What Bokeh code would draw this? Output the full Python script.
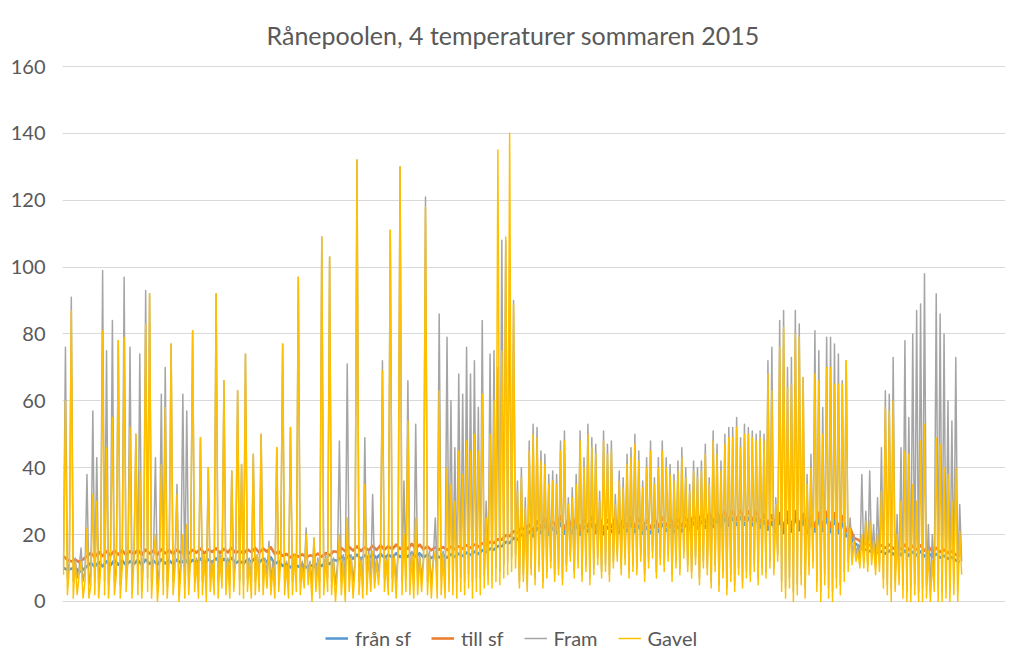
from bokeh.plotting import figure
from bokeh.models import Range1d, Legend, LegendItem, FixedTicker
from bokeh.embed import file_html
from bokeh.resources import INLINE

title_text = "Rånepoolen, 4 temperaturer sommaren 2015"
series_names = ["från sf", "till sf", "Fram", "Gavel"]
y_ticks = [0, 20, 40, 60, 80, 100, 120, 140, 160]

# ---- Gavel (yellow), first part, one value per sample (samples 0..231)
gavel_early = [
    8, 60, 2, 10, 87, 1, 12, 2, 8, 12,
    1, 6, 22, 1, 5, 32, 2, 30, 1, 10,
    81, 2, 46, 1, 12, 55, 2, 8, 78, 1,
    10, 79, 3, 13, 52, 1, 12, 50, 2, 39,
    1, 14, 83, 3, 92, 1, 13, 20, 0, 8,
    41, 2, 58, 1, 12, 77, 2, 10, 32, 0,
    9, 20, 1, 23, 2, 14, 81, 3, 12, 1,
    49, 2, 14, 0, 40, 3, 11, 2, 92, 1,
    13, 4, 66, 2, 12, 1, 39, 3, 13, 63,
    2, 41, 1, 74, 3, 12, 1, 44, 2, 14,
    3, 50, 2, 12, 4, 16, 2, 10, 1, 46,
    3, 12, 77, 2, 11, 1, 52, 2, 14, 3,
    97, 2, 10, 4, 20, 5, 11, 0, 19, 3,
    12, 1, 109, 2, 13, 3, 103, 2, 12, 0,
    9, 20, 2, 12, 0, 25, 3, 13, 1, 10,
    132, 2, 12, 1, 35, 2, 14, 3, 15, 4,
    12, 5, 14, 69, 3, 12, 2, 111, 3, 13,
    1, 14, 130, 2, 20, 3, 54, 2, 14, 1,
    25, 2, 13, 3, 12, 118, 2, 14, 1, 12,
    15, 1, 63, 2, 14, 1, 40, 3, 35, 2,
    30, 1, 45, 3, 38, 2, 48, 4, 45, 1,
    50, 3, 45, 2, 62, 4, 25, 5, 50, 4,
    60, 6, 135, 5, 75, 7, 109, 8, 140, 9,
    89, 10,
]

# ---- Fram (gray), first part (samples 0..231)
fram_early = [
    10, 76, 7, 12, 91, 6, 13, 7, 10, 16,
    6, 9, 38, 5, 9, 57, 6, 43, 5, 12,
    99, 6, 75, 5, 13, 84, 6, 11, 78, 5,
    12, 97, 7, 14, 76, 6, 13, 50, 6, 74,
    5, 14, 93, 7, 92, 6, 14, 43, 5, 10,
    62, 6, 70, 5, 13, 77, 6, 12, 35, 5,
    11, 62, 6, 57, 6, 14, 81, 7, 13, 6,
    49, 6, 14, 5, 40, 7, 12, 6, 92, 6,
    14, 7, 66, 6, 13, 5, 39, 7, 13, 63,
    6, 41, 5, 74, 7, 13, 5, 44, 6, 14,
    7, 50, 6, 13, 8, 18, 6, 12, 5, 46,
    7, 13, 77, 6, 12, 5, 52, 6, 14, 7,
    97, 6, 12, 8, 22, 8, 12, 5, 19, 7,
    13, 6, 109, 6, 14, 7, 103, 6, 13, 5,
    11, 48, 6, 14, 5, 71, 7, 14, 6, 12,
    132, 6, 13, 5, 49, 6, 15, 7, 32, 8,
    13, 9, 15, 72, 7, 13, 6, 111, 7, 14,
    6, 15, 130, 6, 36, 7, 66, 6, 15, 5,
    53, 6, 14, 7, 13, 121, 6, 15, 5, 13,
    25, 6, 86, 7, 15, 6, 79, 7, 60, 6,
    46, 6, 68, 7, 62, 6, 76, 8, 68, 6,
    72, 7, 58, 7, 84, 8, 30, 9, 74, 8,
    75, 10, 70, 9, 108, 11, 108, 12, 100, 13,
    90, 14,
]

# ---- later parts: daily peaks and troughs (alternating samples)
fram_peaks_1 = [36, 40, 31, 48, 53, 52, 45, 44, 38, 39, 38, 48, 51, 31, 34,
                38, 51, 43, 53, 49, 47, 33, 51, 47, 48, 32, 39, 37, 44, 46]
fram_troughs_1 = [6, 8, 5, 10, 7, 11, 6, 9, 12, 8, 10, 7, 11, 14, 9,
                  12, 8, 11, 7, 10, 13, 9, 11, 8, 12, 14, 10, 13, 9, 11]
gavel_peaks_1 = [33, 37, 28, 45, 50, 49, 42, 41, 35, 36, 35, 45, 48, 29, 31,
                 35, 48, 40, 50, 46, 44, 30, 48, 44, 45, 29, 36, 34, 41, 43]
gavel_troughs_1 = [4, 6, 3, 8, 5, 9, 4, 7, 10, 6, 8, 5, 9, 12, 7,
                   10, 6, 9, 5, 8, 11, 7, 9, 6, 10, 12, 8, 11, 7, 9]

fram_peaks_2 = [50, 45, 36, 43, 48, 37, 43, 48, 43, 41, 38, 42, 46, 40, 35,
                42, 40, 42, 47, 37, 51, 47, 42, 50, 52, 52, 55, 49, 53]
fram_troughs_2 = [10, 14, 8, 12, 15, 9, 13, 11, 14, 8, 12, 10, 15, 11, 9,
                  13, 7, 12, 10, 6, 11, 5, 9, 4, 8, 5, 10, 6, 9]
gavel_peaks_2 = [47, 42, 34, 40, 45, 35, 40, 45, 40, 38, 36, 39, 43, 37, 33,
                 39, 37, 39, 44, 35, 48, 44, 39, 47, 49, 49, 52, 46, 50]
gavel_troughs_2 = [8, 12, 6, 10, 13, 7, 11, 9, 12, 6, 10, 8, 13, 9, 7,
                   11, 5, 10, 8, 4, 9, 3, 7, 2, 6, 3, 8, 4, 7]

fram_peaks_3 = [52, 51, 50, 51, 50, 72, 76, 31, 84, 87, 70, 73, 87, 83, 67,
                38, 44, 81, 75, 58, 79, 79, 77, 74, 66, 72, 25, 20, 17]
fram_troughs_3 = [8, 11, 7, 10, 9, 12, 10, 14, 6, 4, 7, 3, 5, 8, 4,
                  11, 12, 6, 3, 8, 4, 3, 7, 5, 9, 12, 13, 14, 12]
gavel_peaks_3 = [50, 49, 48, 49, 48, 68, 63, 29, 76, 82, 64, 65, 80, 79, 67,
                 35, 40, 68, 66, 50, 70, 70, 65, 65, 65, 72, 22, 18, 15]
gavel_troughs_3 = [6, 9, 5, 8, 7, 10, 8, 12, 3, 1, 4, 0, 2, 5, 1,
                   8, 10, 3, 0, 5, 1, 0, 4, 2, 6, 9, 11, 12, 10]

fram_peaks_4 = [38, 27, 39, 23, 31, 46, 63, 62, 73, 26, 46, 78, 55, 80, 87,
                89, 98, 23, 20, 92, 86, 80, 60, 54, 73, 29]
fram_troughs_4 = [12, 11, 13, 10, 11, 7, 5, 4, 6, 8, 5, 3, 4, 5, 3,
                  4, 5, 3, 6, 4, 3, 5, 4, 6, 5, 12]
gavel_peaks_4 = [20, 24, 24, 18, 20, 33, 58, 57, 60, 20, 30, 45, 44, 35, 30,
                 48, 53, 15, 12, 49, 47, 40, 38, 30, 40, 21]
gavel_troughs_4 = [10, 9, 11, 8, 9, 4, 2, 0, 3, 5, 1, 0, 0, 2, 0,
                   0, 1, 0, 3, 0, 0, 1, 0, 2, 0, 8]

# ---- supply / return temperatures (every second sample)
till_sf = [
    13.5, 12.5, 12, 12.5, 11.8, 12.6, 13.5, 14.5, 13.2, 14.8,
    13.6, 15, 13.8, 15.2, 14, 15.3, 13.9, 15, 14.2, 15.4,
    14, 15.5, 14.3, 15.2, 14, 15.6, 14.4, 15.3, 14.2, 15.5,
    14.5, 15.6, 14.3, 15.4, 14.6, 15.8, 14.4, 15.5, 14.8, 15.9,
    14.5, 15.7, 14.7, 16, 14.5, 15.2, 14.3, 15.6, 14.8, 16,
    14.6, 15.8, 14.9, 16.2, 14.2, 15, 13.6, 14.2, 13.2, 14,
    13.4, 14.1, 13.2, 13.8, 13.5, 14.3, 13.4, 14.5, 13.8, 15,
    14.8, 16, 15, 16.3, 15.2, 16.5, 15.1, 16.2, 15.3, 16.6,
    15.4, 16.8, 15.5, 16.5, 15.6, 17, 15.7, 16.8, 15.8, 17.2,
    15.8, 17, 15.6, 16.5, 15.3, 16.2, 15.5, 16.3, 15.4, 16.4,
    15.6, 16.5, 15.8, 16.8, 16, 17, 16.3, 17.4, 16.8, 17.8,
    17.5, 18.6, 18.5, 19.8, 19.5, 21, 20.5, 22, 21.5, 23,
    21, 24, 22, 25, 21.5, 24, 22, 25.5, 21.8, 24.6,
    22, 25, 21.5, 24.5, 22.4, 25.2, 22, 24.8, 21.6, 24.3,
    22.3, 25, 22, 24.6, 22.5, 25.3, 22.2, 24.7, 21.8, 24.2,
    22, 24.8, 22.4, 25.1, 22.6, 24.9, 22.3, 24.6, 22.5, 25,
    23, 25.6, 23.4, 26, 23.6, 26.3, 23.8, 26.5, 24, 26.8,
    24.2, 27, 24.4, 27.2, 24.5, 27, 24.3, 26.8, 23.6, 26,
    23, 25.8, 22.5, 26.4, 22, 26.8, 22.4, 27, 22.8, 26.2,
    22, 25.6, 22.4, 26.5, 22.6, 26.8, 22.2, 26.4, 22, 25.5,
    21, 22, 19, 18.5, 17.5, 17.2, 16.8, 17, 16.3, 16.8,
    16, 17, 15.8, 16.8, 15.6, 17, 15.4, 16.6, 15.5, 16.8,
    15.2, 16.4, 15, 16, 14.8, 15.5, 14.5, 15, 14, 13.6,
]
fran_sf = [
    10, 9.5, 9.8, 10.2, 8.8, 9.5, 10.5, 11.5, 10.4, 11.8,
    10.5, 12, 10.8, 12.3, 11, 12.2, 10.9, 12, 11.2, 12.4,
    11, 12.5, 11.3, 12.2, 11, 12.6, 11.4, 12.3, 11.2, 12.5,
    11.5, 12.6, 11.3, 12.4, 11.6, 12.8, 11.4, 12.5, 11.8, 12.9,
    11.5, 12.7, 11.7, 13, 11.5, 12.2, 11.3, 12.6, 11.8, 13,
    11.6, 12.8, 11.9, 13.2, 11.2, 12, 10.6, 11.2, 10.2, 11,
    10.4, 11.1, 10.2, 10.8, 10.5, 11.3, 10.6, 11.8, 11.2, 12.4,
    12.2, 13.4, 12.6, 13.8, 12.8, 14, 12.7, 13.8, 12.9, 14.1,
    13, 14.2, 13.1, 14, 13.2, 14.4, 13.3, 14.3, 13.4, 14.6,
    13.4, 14.4, 13.2, 14, 13, 13.8, 13.2, 14, 13.1, 14.1,
    13.4, 14.3, 13.6, 14.6, 13.9, 14.9, 14.2, 15.3, 14.8, 15.8,
    15.5, 16.6, 16.5, 17.8, 17.5, 19, 18.5, 20, 19.5, 21,
    19.5, 22, 20.5, 23, 20, 22, 20.5, 23.5, 20.3, 22.6,
    20.5, 23, 20, 22.5, 20.9, 23.2, 20.5, 22.8, 20.1, 22.3,
    20.8, 23, 20.5, 22.6, 21, 23.3, 20.7, 22.7, 20.3, 22.2,
    20.5, 22.8, 20.9, 23.1, 21.1, 22.9, 20.8, 22.6, 21, 23,
    21.5, 23.6, 21.9, 24, 22.1, 24.3, 22.3, 24.5, 22.5, 24.8,
    22.7, 25, 22.9, 25.2, 23, 25, 22.8, 24.8, 22.1, 24,
    21.5, 23.8, 21, 24.4, 20.5, 24.8, 20.9, 25, 21.3, 24.2,
    20.5, 23.6, 20.9, 24.5, 21.1, 24.8, 20.7, 24.4, 20.5, 23.5,
    19.5, 20, 17.5, 16.8, 15.8, 15.5, 15, 15.3, 14.6, 15,
    14.3, 15.2, 14.1, 15, 13.9, 15.2, 13.7, 14.8, 13.8, 15,
    13.5, 14.6, 13.3, 14.2, 13.1, 13.7, 12.8, 13.2, 12.3, 11.8,
]


def interleave(peaks, troughs):
    out = []
    for a, b in zip(peaks, troughs):
        out += [a, b]
    return out


fram = (fram_early
        + interleave(fram_peaks_1, fram_troughs_1)
        + interleave(fram_peaks_2, fram_troughs_2)
        + interleave(fram_peaks_3, fram_troughs_3)
        + interleave(fram_peaks_4, fram_troughs_4))
gavel = (gavel_early
         + interleave(gavel_peaks_1, gavel_troughs_1)
         + interleave(gavel_peaks_2, gavel_troughs_2)
         + interleave(gavel_peaks_3, gavel_troughs_3)
         + interleave(gavel_peaks_4, gavel_troughs_4))
t = list(range(len(fram)))
t_half = t[::2][:len(till_sf)]

FONT = "Lato"
TXT = "#595959"

# The plot frame reaches down to the bottom of the canvas so that the legend
# (placed under the zero line) is not clipped; the y range keeps 0 at the
# reference's position.
p = figure(width=1021, height=667, output_backend="svg", toolbar_location=None,
           x_range=Range1d(-0.5, 481.4), y_range=Range1d(-19.75, 160.3),
           frame_width=943, frame_height=602,
           min_border_left=62, min_border_right=16,
           min_border_top=65, min_border_bottom=0)
p.title.text = title_text
p.title.align = "left"
p.title.text_font = FONT
p.title.text_font_size = "25px"
p.title.text_font_style = "normal"
p.title.text_color = TXT
p.title.standoff = 32
p.title.offset = 204

p.outline_line_color = None
p.background_fill_color = "white"
p.border_fill_color = "white"
p.xaxis.visible = False
p.xgrid.visible = False
p.ygrid.grid_line_color = "#D9D9D9"
p.ygrid.grid_line_width = 1
p.yaxis.ticker = FixedTicker(ticks=y_ticks)
p.yaxis.axis_line_color = None
p.yaxis.major_tick_line_color = None
p.yaxis.minor_tick_line_color = None
p.yaxis.major_tick_out = 0
p.yaxis.major_tick_in = 0
p.yaxis.major_label_standoff = 17
p.yaxis.major_label_text_font = FONT
p.yaxis.major_label_text_font_size = "20px"
p.yaxis.major_label_text_color = TXT

r1 = p.line(t_half, fran_sf, line_color="#5B9BD5", line_width=2.6, line_join="round")
r2 = p.line(t_half, till_sf, line_color="#ED7D31", line_width=2.6, line_join="round")
r3 = p.line(t, fram, line_color="#A5A5A5", line_width=1.5, line_join="round")
r4 = p.line(t, gavel, line_color="#FFC000", line_width=1.5, line_join="round")

legend = Legend(items=[LegendItem(label=n, renderers=[r])
                       for n, r in zip(series_names, [r1, r2, r3, r4])],
                orientation="horizontal", location=(263, 17),
                label_text_font=FONT, label_text_font_size="20px",
                label_text_color=TXT, glyph_width=23, label_standoff=7,
                spacing=20, border_line_color=None, background_fill_alpha=0,
                margin=0, padding=4)
p.add_layout(legend)

open("out.html", "w").write(file_html(p, INLINE))
